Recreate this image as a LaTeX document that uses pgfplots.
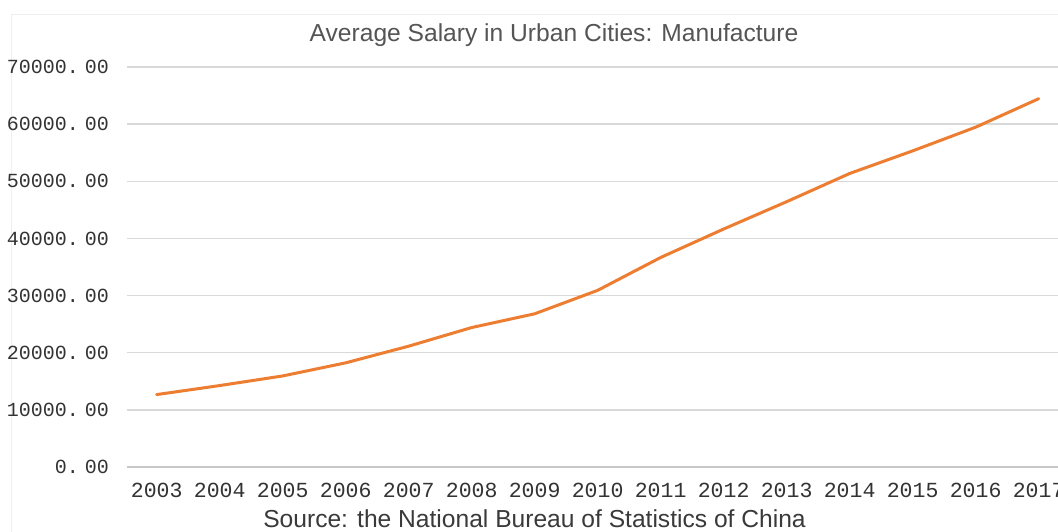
\documentclass[border=0pt]{standalone}
\usepackage{pgfplots}
\pgfplotsset{compat=1.18}
\usepackage{fontspec}
\setmainfont{Liberation Sans}
\newfontfamily\monofont{Liberation Mono}
\definecolor{lineorange}{HTML}{ED7D31}
\definecolor{gridgray}{HTML}{D9D9D9}
\definecolor{zerogray}{HTML}{C8C8C8}
\definecolor{ticktext}{HTML}{333333}
\definecolor{titletext}{HTML}{555555}
\definecolor{sourcetext}{HTML}{3A3A3A}
\definecolor{framegray}{HTML}{EFEFEF}
\pgfplotstableread{
year salary
2003 12671
2004 14251
2005 15934
2006 18225
2007 21144
2008 24404
2009 26810
2010 30916
2011 36665
2012 41650
2013 46431
2014 51369
2015 55324
2016 59470
2017 64452
}\salarydata
\begin{document}
\begin{tikzpicture}[x=1pt,y=1pt]
\useasboundingbox (0,0) rectangle (1058,532);
\fill[white] (0,0) rectangle (1058,532);
\draw[framegray, line width=1pt] (11,0) -- (11,517) -- (1058,517);
\begin{axis}[
  at={(127pt,65pt)}, anchor=south west,
  scale only axis,
  width=931pt, height=400pt,
  xmin=2002.529, xmax=2017.306,
  ymin=0, ymax=70000,
  axis line style={draw=none},
  scaled y ticks=false,
  scaled x ticks=false,
  xtick={2003,...,2017},
  xticklabels={2003,2004,2005,2006,2007,2008,2009,2010,2011,2012,2013,2014,2015,2016,2017},
  ytick={0,10000,20000,30000,40000,50000,60000,70000},
  yticklabels={0.\hspace{0.3em}00,10000.\hspace{0.3em}00,20000.\hspace{0.3em}00,30000.\hspace{0.3em}00,40000.\hspace{0.3em}00,50000.\hspace{0.3em}00,60000.\hspace{0.3em}00,70000.\hspace{0.3em}00},
  major tick length=0pt,
  ymajorgrids,
  major grid style={gridgray, line width=1.5pt},
  extra y ticks={0},
  extra y tick labels={},
  extra y tick style={major grid style={zerogray, line width=1.8pt}},
  yticklabel style={font=\monofont\fontsize{20}{22}\selectfont, text=ticktext, anchor=east, inner sep=0pt, xshift=-18pt},
  xticklabel style={font=\monofont\fontsize{21.5}{23}\selectfont, text=ticktext, anchor=north, inner sep=0pt, yshift=-16pt},
  clip=false,
]
\addplot[lineorange, line width=3pt, line join=round, line cap=round] table[x=year, y=salary] {\salarydata};
\end{axis}
\node[anchor=base, text=titletext, font=\fontsize{24.6}{28}\selectfont, inner sep=0pt] at (554,490) {Average Salary in Urban Cities: Manufacture};
\node[anchor=base, text=sourcetext, font=\fontsize{24.6}{28}\selectfont, inner sep=0pt] at (534.5,4) {Source: the National Bureau of Statistics of China};
\end{tikzpicture}
\end{document}
